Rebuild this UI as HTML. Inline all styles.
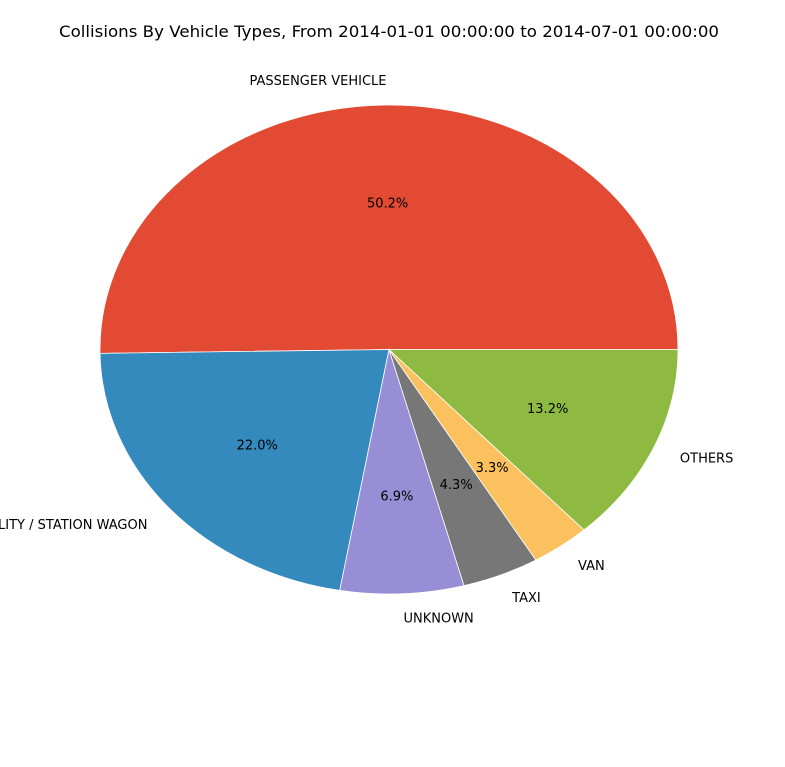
<!DOCTYPE html>
<html><head><meta charset="utf-8"><style>
html,body{margin:0;padding:0;background:#fff;}
svg{display:block;font-family:"DejaVu Sans","Liberation Sans",sans-serif;}
</style></head><body>
<svg id="chart" width="785" height="767" viewBox="0 0 785 767">
<rect width="785" height="767" fill="#fff"/>
<text x="389" y="37" font-size="16" text-anchor="middle" textLength="660" lengthAdjust="spacingAndGlyphs" fill="#000">Collisions By Vehicle Types, From 2014-01-01 00:00:00 to 2014-07-01 00:00:00</text>
<g id="slices"></g>
<g id="labels"></g>
</svg>
<script>
const categories = ["PASSENGER VEHICLE","SPORT UTILITY / STATION WAGON","UNKNOWN","TAXI","VAN","OTHERS"];
const values = [50.2, 22.0, 6.9, 4.3, 3.3, 13.2];
const colors = ["#E24A33","#348ABD","#988ED5","#777777","#FBC15E","#8EBA42"];
const names = ["passenger-vehicle","suv-station-wagon","unknown","taxi","van","others"];

const cx = 389, cy = 349.5, rx = 289, ry = 244.5;
const NS = "http://www.w3.org/2000/svg";
const total = values.reduce((a,b)=>a+b,0);
const gS = document.getElementById("slices"), gL = document.getElementById("labels");
function pt(a, r){ return [cx + rx*r*Math.cos(a), cy - ry*r*Math.sin(a)]; }
let start = 0;
values.forEach((v,i)=>{
  const sweep = v/total*2*Math.PI, end = start + sweep;
  const p0 = pt(start,1), p1 = pt(end,1);
  const large = sweep > Math.PI ? 1 : 0;
  const path = document.createElementNS(NS,"path");
  path.setAttribute("d",`M${cx},${cy} L${p0[0]},${p0[1]} A${rx},${ry} 0 ${large} 0 ${p1[0]},${p1[1]} Z`);
  path.setAttribute("fill",colors[i]);
  path.setAttribute("stroke","#fff");
  path.setAttribute("stroke-width","0.8");
  
  
  gS.appendChild(path);
  const mid = (start+end)/2;
  const lp = pt(mid,1.1);
  const t = document.createElementNS(NS,"text");
  t.setAttribute("x",lp[0]); t.setAttribute("y",lp[1]+4.5);
  t.setAttribute("font-size","13");
  t.setAttribute("text-anchor", Math.cos(mid) < 0 ? "end" : "start");
  t.textContent = categories[i];
  
  
  gL.appendChild(t);
  const pp = pt(mid,0.6);
  const t2 = document.createElementNS(NS,"text");
  t2.setAttribute("x",pp[0]); t2.setAttribute("y",pp[1]+4.5);
  t2.setAttribute("font-size","13");
  t2.setAttribute("text-anchor","middle");
  t2.textContent = v.toFixed(1) + "%";
  
  
  gL.appendChild(t2);
  start = end;
});
</script>
</body></html>
